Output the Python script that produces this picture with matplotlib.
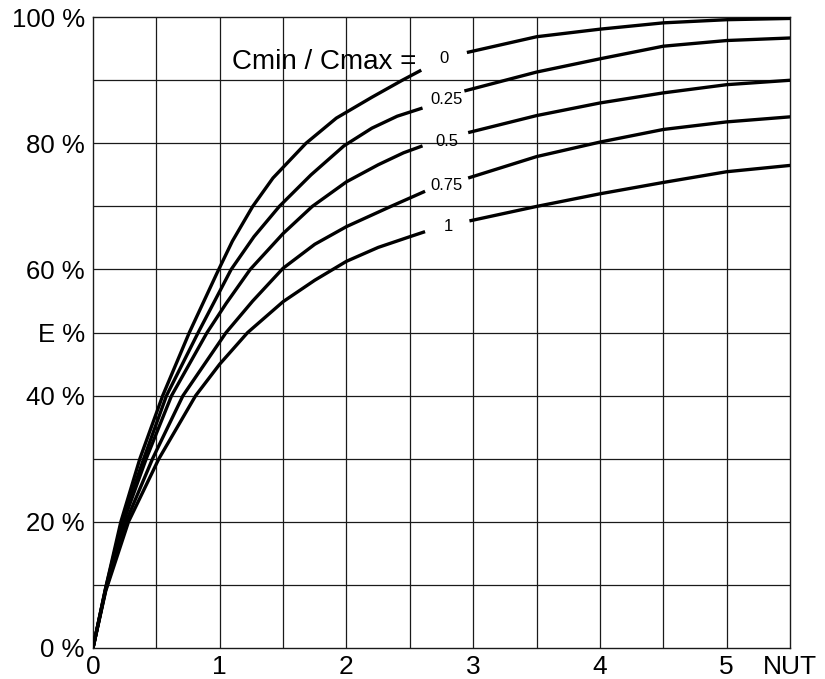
import matplotlib.pyplot as plt

plt.rcParams['font.family'] = ['Liberation Sans', 'DejaVu Sans']

# Cmin / Cmax ratios, one curve each
ratios = ['0', '0.25', '0.5', '0.75', '1']

# left branch of each curve (before the label gap)
ntu_left = [
    [0, 0.1, 0.22, 0.37, 0.55, 0.76, 0.98, 1.1, 1.26, 1.42, 1.68, 1.92, 2.2, 2.44, 2.59],
    [0, 0.1, 0.23, 0.40, 0.58, 0.83, 1.09, 1.27, 1.47, 1.72, 1.98, 2.2, 2.4, 2.6],
    [0, 0.1, 0.24, 0.42, 0.62, 0.90, 1.05, 1.24, 1.5, 1.73, 2.0, 2.25, 2.45, 2.6],
    [0, 0.1, 0.26, 0.47, 0.71, 1.05, 1.26, 1.5, 1.75, 2.0, 2.35, 2.62],
    [0, 0.1, 0.28, 0.52, 0.81, 1.0, 1.22, 1.5, 1.75, 2.0, 2.25, 2.5, 2.62],
]
eff_left = [
    [0, 9.5, 20, 30, 40, 50, 59.5, 64.5, 70, 74.5, 80, 84, 87.3, 90, 91.6],
    [0, 9.5, 20, 30, 40, 50, 60, 65.2, 70, 75, 79.6, 82.4, 84.3, 85.6],
    [0, 9.3, 20, 30, 40, 50, 54.6, 60, 65.7, 70, 73.9, 76.6, 78.5, 79.6],
    [0, 9.2, 20, 30, 40, 50, 55, 60.2, 64, 66.8, 70, 72.4],
    [0, 9, 20, 30, 40, 45, 50, 54.9, 58.3, 61.3, 63.5, 65.2, 66],
]

# right branch of each curve (after the label gap)
ntu_right = [
    [2.95, 3.5, 4.0, 4.5, 5.0, 5.5],
    [2.93, 3.5, 4.0, 4.5, 5.0, 5.5],
    [2.96, 3.5, 4.0, 4.5, 5.0, 5.5],
    [2.96, 3.5, 4.0, 4.5, 5.0, 5.5],
    [2.97, 3.5, 4.0, 4.5, 5.0, 5.5],
]
eff_right = [
    [94.4, 96.9, 98.1, 99.1, 99.6, 99.8],
    [88.3, 91.3, 93.4, 95.4, 96.3, 96.7],
    [81.7, 84.4, 86.4, 88.0, 89.3, 90.0],
    [74.5, 77.9, 80.2, 82.2, 83.4, 84.2],
    [67.7, 70.0, 72.0, 73.8, 75.5, 76.5],
]

# where the ratio labels sit (in data units)
label_x = [2.77, 2.79, 2.79, 2.79, 2.80]
label_y = [93.4, 87.0, 80.3, 73.3, 66.8]

x_ticks = [0, 1, 2, 3, 4, 5, 5.5]
x_ticklabels = ['0', '1', '2', '3', '4', '5', 'NUT']
y_ticks = [0, 20, 40, 50, 60, 80, 100]
y_ticklabels = ['0 %', '20 %', '40 %', 'E %', '60 %', '80 %', '100 %']

fig = plt.figure(figsize=(8.25, 6.79), dpi=100)
ax = fig.add_axes([0.1127, 0.0457, 0.845, 0.929])

# grid every 0.5 NUT and every 10 %
for gx in [i * 0.5 for i in range(1, 11)]:
    ax.axvline(gx, color='#1a1a1a', lw=0.9, zorder=1)
for gy in range(10, 100, 10):
    ax.axhline(gy, color='#1a1a1a', lw=0.9, zorder=1)

for i in range(len(ratios)):
    ax.plot(ntu_left[i], eff_left[i], color='black', lw=2.4, zorder=3,
            solid_capstyle='butt', solid_joinstyle='round')
    ax.plot(ntu_right[i], eff_right[i], color='black', lw=2.4, zorder=3,
            solid_capstyle='butt', solid_joinstyle='round')
    ax.text(label_x[i], label_y[i], ratios[i], fontsize=12, ha='center',
            va='center', zorder=4)

ax.text(1.1, 92.9, 'Cmin / Cmax =', fontsize=20, ha='left', va='center',
        zorder=4)

ax.set_xlim(0, 5.5)
ax.set_ylim(0, 100)
ax.set_xticks(x_ticks)
ax.set_xticklabels(x_ticklabels, fontsize=19)
ax.set_yticks(y_ticks)
ax.set_yticklabels(y_ticklabels, fontsize=18.5)
ax.tick_params(length=0)
ax.tick_params(axis='x', pad=5)
ax.tick_params(axis='y', pad=6)
for s in ax.spines.values():
    s.set_linewidth(1.0)
    s.set_color('#1a1a1a')

fig.savefig('out.png', dpi=100)
